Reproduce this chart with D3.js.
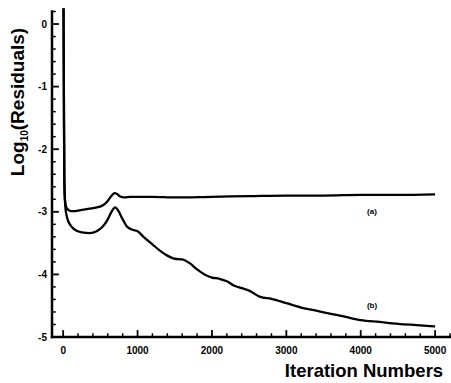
<!DOCTYPE html>
<html>
<head>
<meta charset="utf-8">
<script src="https://cdn.jsdelivr.net/npm/d3@7"></script>
<style>
  body { margin: 0; background: #fff; }
  svg { display: block; }
  text { font-family: "Liberation Sans", Arial, sans-serif; font-weight: bold; fill: #000; }
</style>
</head>
<body>
<svg id="chart" width="451" height="383"></svg>
<script>
// curve (a)
var iterA = [5, 10, 16, 24, 40, 70, 110, 160, 250, 350, 450, 530, 590, 640, 690, 720, 760, 820, 900, 1000, 1200, 1500, 2000, 2500, 3000, 3500, 4000, 4500, 5000];
var resA  = [0.25, -1.2, -2.5, -2.8, -2.92, -2.97, -2.99, -2.99, -2.97, -2.95, -2.93, -2.9, -2.84, -2.76, -2.7, -2.71, -2.75, -2.77, -2.76, -2.76, -2.76, -2.77, -2.76, -2.75, -2.74, -2.74, -2.73, -2.73, -2.72];

// curve (b)
var iterB = [5, 10, 16, 28, 50, 90, 150, 250, 360, 450, 530, 600, 650, 700, 740, 800, 860, 940, 1000, 1080, 1200, 1300, 1400, 1500, 1600, 1700, 1800, 1900, 2000, 2100, 2200, 2300, 2400, 2500, 2650, 2800, 3000, 3200, 3400, 3600, 3800, 4000, 4250, 4500, 4750, 5000];
var resB  = [0.25, -1.2, -2.5, -2.9, -3.08, -3.2, -3.28, -3.33, -3.34, -3.31, -3.24, -3.12, -3.0, -2.93, -2.98, -3.12, -3.24, -3.29, -3.31, -3.4, -3.52, -3.62, -3.7, -3.75, -3.76, -3.82, -3.92, -4.0, -4.05, -4.07, -4.11, -4.18, -4.22, -4.26, -4.36, -4.39, -4.46, -4.53, -4.58, -4.63, -4.68, -4.73, -4.76, -4.79, -4.81, -4.83];

var xMajor = [0, 1000, 2000, 3000, 4000, 5000];
var yMajor = [0, -1, -2, -3, -4, -5];
var curveLabels = ["(a)", "(b)"];

var svg = d3.select("#chart");

var x = d3.scaleLinear().domain([-150, 5200]).range([52, 450]);
var y = d3.scaleLinear().domain([-5, 0.2]).range([337, 11.5]);

var x0 = x.range()[0], y0 = y.range()[0];

// minor ticks
var xMinor = d3.range(0, 5201, 200).filter(function(v){ return v % 1000 !== 0; });
var yMinor = d3.range(-4.8, 0.21, 0.2).filter(function(v){ return Math.abs(v - Math.round(v)) > 0.01; });

var axes = svg.append("g").attr("stroke", "#000").attr("stroke-linecap", "square");

axes.append("line")
  .attr("x1", x0).attr("x2", x0).attr("y1", y.range()[1]).attr("y2", y0)
  .attr("stroke-width", 2.5);
axes.append("line")
  .attr("x1", x0).attr("x2", x.range()[1]).attr("y1", y0).attr("y2", y0)
  .attr("stroke-width", 2.5);

axes.selectAll(".xmaj").data(xMajor).enter().append("line")
  .attr("x1", function(d){ return x(d); }).attr("x2", function(d){ return x(d); })
  .attr("y1", y0).attr("y2", y0 - 6).attr("stroke-width", 1.8);
axes.selectAll(".xmin").data(xMinor).enter().append("line")
  .attr("x1", function(d){ return x(d); }).attr("x2", function(d){ return x(d); })
  .attr("y1", y0).attr("y2", y0 - 3).attr("stroke-width", 1.5);

axes.selectAll(".ymaj").data(yMajor).enter().append("line")
  .attr("x1", x0).attr("x2", x0 + 6)
  .attr("y1", function(d){ return y(d); }).attr("y2", function(d){ return y(d); })
  .attr("stroke-width", 1.8);
axes.selectAll(".ymin").data(yMinor).enter().append("line")
  .attr("x1", x0).attr("x2", x0 + 3)
  .attr("y1", function(d){ return y(d); }).attr("y2", function(d){ return y(d); })
  .attr("stroke-width", 1.5);

// tick labels
svg.selectAll(".xlab").data(xMajor).enter().append("text")
  .attr("x", function(d){ return x(d); })
  .attr("y", y0 + 17)
  .attr("text-anchor", "middle")
  .attr("font-size", 10)
  .text(function(d){ return d; });

svg.selectAll(".ylab").data(yMajor).enter().append("text")
  .attr("x", x0 - 5)
  .attr("y", function(d){ return y(d) + 3.5; })
  .attr("text-anchor", "end")
  .attr("font-size", 10)
  .text(function(d){ return d === 0 ? "0" : "-" + Math.abs(d); });

// axis titles
svg.append("text")
  .attr("x", 364).attr("y", 377)
  .attr("text-anchor", "middle")
  .attr("font-size", 18.5)
  .text("Iteration Numbers");

var yt = svg.append("text")
  .attr("transform", "translate(24,102) rotate(-90)")
  .attr("text-anchor", "middle")
  .attr("font-size", 19);
yt.append("tspan").text("Log");
yt.append("tspan").attr("font-size", 10).attr("dy", 4).text("10");
yt.append("tspan").attr("dy", -4).text("(Residuals)");

// curves
var line = d3.line()
  .x(function(d){ return x(d[0]); })
  .y(function(d){ return y(d[1]); })
  .curve(d3.curveMonotoneX);

svg.append("path")
  .datum(d3.zip(iterA, resA))
  .attr("d", line)
  .attr("fill", "none").attr("stroke", "#000").attr("stroke-width", 2.3);

svg.append("path")
  .datum(d3.zip(iterB, resB))
  .attr("d", line)
  .attr("fill", "none").attr("stroke", "#000").attr("stroke-width", 2.3);

svg.append("text").attr("x", 372).attr("y", 214)
  .attr("text-anchor", "middle").attr("font-size", 8).text(curveLabels[0]);
svg.append("text").attr("x", 372).attr("y", 308)
  .attr("text-anchor", "middle").attr("font-size", 8).text(curveLabels[1]);
</script>
</body>
</html>
